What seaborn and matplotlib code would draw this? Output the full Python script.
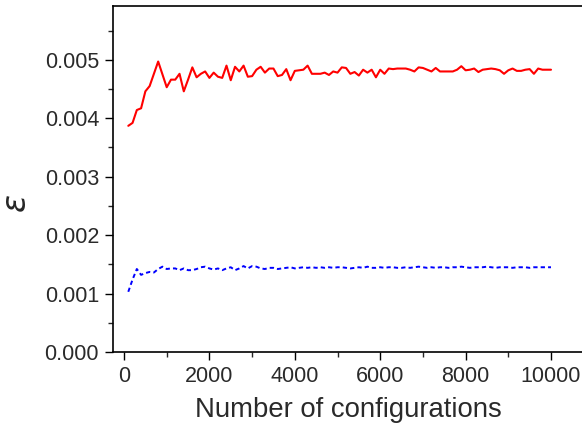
import numpy as np
import pandas as pd
import matplotlib
matplotlib.use("Agg")
import matplotlib.pyplot as plt
from matplotlib.ticker import MultipleLocator
import seaborn as sns

# number of configurations (100 .. 10000, step 100)
configs = list(range(100, 10001, 100))

# error, in units of 1e-3
eps_red = [
    3.87, 3.92, 4.14, 4.17, 4.46, 4.55, 4.76, 4.97, 4.75, 4.53,
    4.66, 4.66, 4.76, 4.46, 4.66, 4.87, 4.70, 4.76, 4.80, 4.69,
    4.78, 4.71, 4.69, 4.90, 4.65, 4.88, 4.80, 4.90, 4.71, 4.72,
    4.83, 4.88, 4.78, 4.85, 4.85, 4.72, 4.74, 4.84, 4.65, 4.81,
    4.82, 4.83, 4.90, 4.76, 4.76, 4.76, 4.78, 4.74, 4.80, 4.78,
    4.87, 4.86, 4.76, 4.79, 4.73, 4.83, 4.78, 4.83, 4.70, 4.83,
    4.76, 4.85, 4.84, 4.85, 4.85, 4.85, 4.83, 4.80, 4.87, 4.86,
    4.83, 4.80, 4.86, 4.80, 4.80, 4.80, 4.80, 4.83, 4.89, 4.82,
    4.83, 4.85, 4.79, 4.83, 4.84, 4.85, 4.84, 4.82, 4.76, 4.82,
    4.85, 4.81, 4.81, 4.83, 4.84, 4.76, 4.85, 4.83, 4.83, 4.83,
]
eps_blue = [
    1.03, 1.24, 1.42, 1.32, 1.35, 1.37, 1.36, 1.42, 1.46, 1.42,
    1.43, 1.43, 1.40, 1.43, 1.40, 1.40, 1.42, 1.45, 1.46, 1.43,
    1.41, 1.43, 1.40, 1.43, 1.45, 1.40, 1.43, 1.47, 1.43, 1.47,
    1.46, 1.43, 1.42, 1.44, 1.44, 1.42, 1.43, 1.44, 1.45, 1.43,
    1.44, 1.45, 1.44, 1.45, 1.44, 1.45, 1.44, 1.45, 1.44, 1.45,
    1.45, 1.44, 1.43, 1.44, 1.45, 1.44, 1.46, 1.44, 1.44, 1.45,
    1.44, 1.45, 1.45, 1.44, 1.44, 1.45, 1.44, 1.45, 1.46, 1.45,
    1.44, 1.45, 1.44, 1.45, 1.45, 1.44, 1.45, 1.45, 1.46, 1.45,
    1.44, 1.45, 1.45, 1.45, 1.46, 1.45, 1.44, 1.45, 1.45, 1.45,
    1.44, 1.45, 1.45, 1.45, 1.44, 1.45, 1.45, 1.45, 1.45, 1.45,
]

sns.set_theme(style="ticks")
plt.rcParams["font.family"] = ["Liberation Sans", "DejaVu Sans"]

df = pd.DataFrame({
    "n": configs,
    "red": np.array(eps_red) * 1e-3,
    "blue": np.array(eps_blue) * 1e-3,
})

fig = plt.figure(figsize=(5.82, 4.30), dpi=100)
ax = fig.add_axes([113 / 582, 1 - 352 / 430, 1 - 113 / 582, (352 - 6) / 430])

sns.lineplot(data=df, x="n", y="red", color="#ff0000", lw=1.5, ax=ax)
sns.lineplot(data=df, x="n", y="blue", color="#0000ff", lw=1.4, ax=ax,
             dashes=False, linestyle=(0, (2.2, 1.6)))

ax.set_xlim(-258, 10726)
ax.set_ylim(0, 0.00592)
ax.xaxis.set_major_locator(MultipleLocator(2000))
ax.xaxis.set_minor_locator(MultipleLocator(1000))
ax.yaxis.set_major_locator(MultipleLocator(0.001))
ax.yaxis.set_minor_locator(MultipleLocator(0.0005))
ax.yaxis.set_major_formatter(matplotlib.ticker.FormatStrFormatter("%.3f"))

ax.tick_params(which="major", direction="out", length=6, width=1, labelsize=15.5,
               colors="black", labelcolor="#2a2a2a", pad=4)
ax.tick_params(which="minor", direction="out", length=3.5, width=1)
for side in ["left", "bottom", "top"]:
    ax.spines[side].set_color("black")
    ax.spines[side].set_linewidth(1.2)
ax.spines["right"].set_visible(False)

ax.set_xlabel("Number of configurations", fontsize=19.8, color="#2a2a2a")
ax.set_ylabel(r"$\varepsilon$", fontsize=24)
ax.xaxis.set_label_coords((348 - 113) / (582 - 113), -(397 - 352) / 346)
ax.yaxis.set_label_coords(-(113 - 33) / (582 - 113), (352 - 204) / 346)

fig.savefig("out.png", dpi=100)
